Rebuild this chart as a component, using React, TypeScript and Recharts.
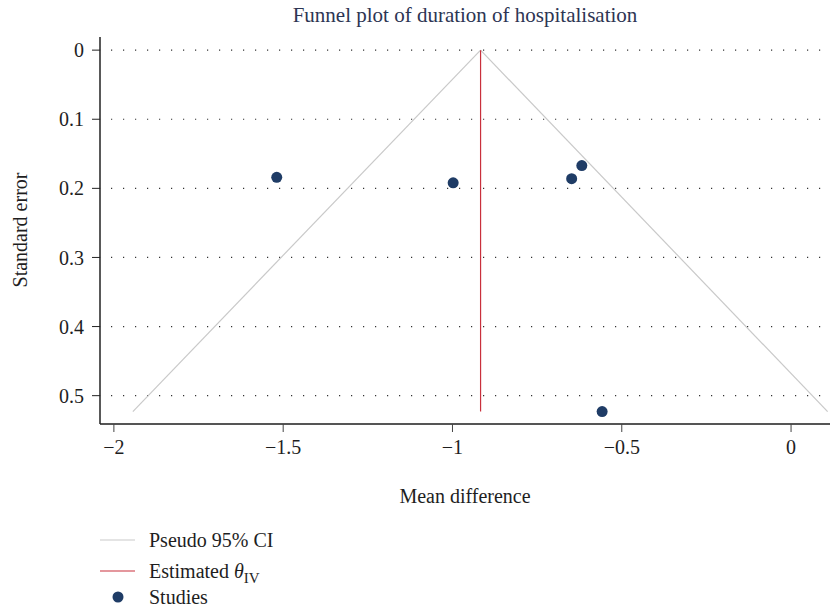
import React from 'react';
import { ComposedChart, Scatter, XAxis, YAxis, ReferenceLine } from 'recharts';

// studies: mean difference and its standard error
const studyMeanDiff = [-1.519, -0.998, -0.648, -0.618, -0.558];
const studySE = [0.184, 0.192, 0.186, 0.167, 0.523];

// pooled estimate and pseudo 95% CI funnel ends
const thetaIV = -0.917;
const seMax = 0.523;
const funnelLeft = -1.944;
const funnelRight = 0.108;

const xTicks = [-2, -1.5, -1, -0.5, 0];
const yTicks = [0, 0.1, 0.2, 0.3, 0.4, 0.5];

const studies = studyMeanDiff.map((x, i) => ({ x, y: studySE[i] }));

const FONT = '"Liberation Serif", "DejaVu Serif", serif';
const GREY = '#c9c9c9';
const RED = '#c9303c';
const NAVY = '#1f3c66';
const TXT = '#1e1e1e';

const fmt = (v: number) => (v < 0 ? '\u2212' + String(-v) : String(v));

const Dot = (props: any) => <circle cx={props.cx} cy={props.cy} r={5.5} fill={NAVY} />;

export default function App() {
    return (
        <div style={{ position: 'absolute', left: 0, top: 0, width: 830, height: 610, background: '#fff', fontFamily: FONT, overflow: 'hidden' }}>
            <div style={{ position: 'absolute', left: 100, width: 730, top: 3, textAlign: 'center', fontSize: 21, lineHeight: '24px', color: '#2d3553' }}>
                Funnel plot of duration of hospitalisation
            </div>

            <ComposedChart width={830} height={520} margin={{ top: 37, right: 0, bottom: 0, left: 0 }}>
                {yTicks.map((t) => (
                    <ReferenceLine
                        key={t}
                        y={t}
                        stroke="#333"
                        strokeWidth={1.2}
                        strokeDasharray="1.2 10.8"
                        strokeDashoffset={-11}
                    />
                ))}
                <XAxis
                    type="number"
                    dataKey="x"
                    domain={[-2.041, 0.115]}
                    ticks={xTicks}
                    allowDataOverflow
                    height={96}
                    tickSize={8}
                    tickMargin={8}
                    tickFormatter={fmt}
                    axisLine={{ stroke: '#555', strokeWidth: 2 }}
                    tickLine={{ stroke: '#444' }}
                    tick={{ fill: TXT, fontSize: 20, fontFamily: FONT }}
                />
                <YAxis
                    type="number"
                    dataKey="y"
                    reversed
                    domain={[-0.019, 0.541]}
                    ticks={yTicks}
                    allowDataOverflow
                    width={100}
                    tickSize={8}
                    tickMargin={8}
                    axisLine={{ stroke: '#222', strokeWidth: 1.5 }}
                    tickLine={{ stroke: '#222' }}
                    tick={{ fill: TXT, fontSize: 20, fontFamily: FONT }}
                />
                <ReferenceLine segment={[{ x: funnelLeft, y: seMax }, { x: thetaIV, y: 0 }]} stroke={GREY} strokeWidth={1.2} />
                <ReferenceLine segment={[{ x: thetaIV, y: 0 }, { x: funnelRight, y: seMax }]} stroke={GREY} strokeWidth={1.2} />
                <ReferenceLine segment={[{ x: thetaIV, y: 0 }, { x: thetaIV, y: seMax }]} stroke={RED} strokeWidth={1.2} />
                <Scatter data={studies} shape={Dot} isAnimationActive={false} />
            </ComposedChart>

            <div style={{ position: 'absolute', left: -80, top: 218, width: 200, height: 24, lineHeight: '24px', fontSize: 20, color: TXT, transform: 'rotate(-90deg)', textAlign: 'center', whiteSpace: 'nowrap' }}>
                Standard error
            </div>
            <div style={{ position: 'absolute', left: 100, width: 730, top: 484, lineHeight: '24px', textAlign: 'center', fontSize: 20, color: TXT }}>
                Mean difference
            </div>

            <svg style={{ position: 'absolute', left: 0, top: 520 }} width={830} height={90}>
                <line x1={100} x2={135} y1={20} y2={20} stroke={GREY} strokeWidth={1.2} />
                <text x={149} y={20} dy="0.35em" fontSize={20} fill={TXT} fontFamily={FONT}>Pseudo 95% CI</text>
                <line x1={100} x2={135} y1={51} y2={51} stroke={RED} strokeWidth={1.2} />
                <text x={149} y={51} dy="0.35em" fontSize={20} fill={TXT} fontFamily={FONT}>
                    Estimated <tspan fontStyle="italic">θ</tspan>
                    <tspan fontSize={15} dy="0.3em">IV</tspan>
                </text>
                <circle cx={118} cy={77} r={5.5} fill={NAVY} />
                <text x={149} y={77} dy="0.35em" fontSize={20} fill={TXT} fontFamily={FONT}>Studies</text>
            </svg>
        </div>
    );
}
